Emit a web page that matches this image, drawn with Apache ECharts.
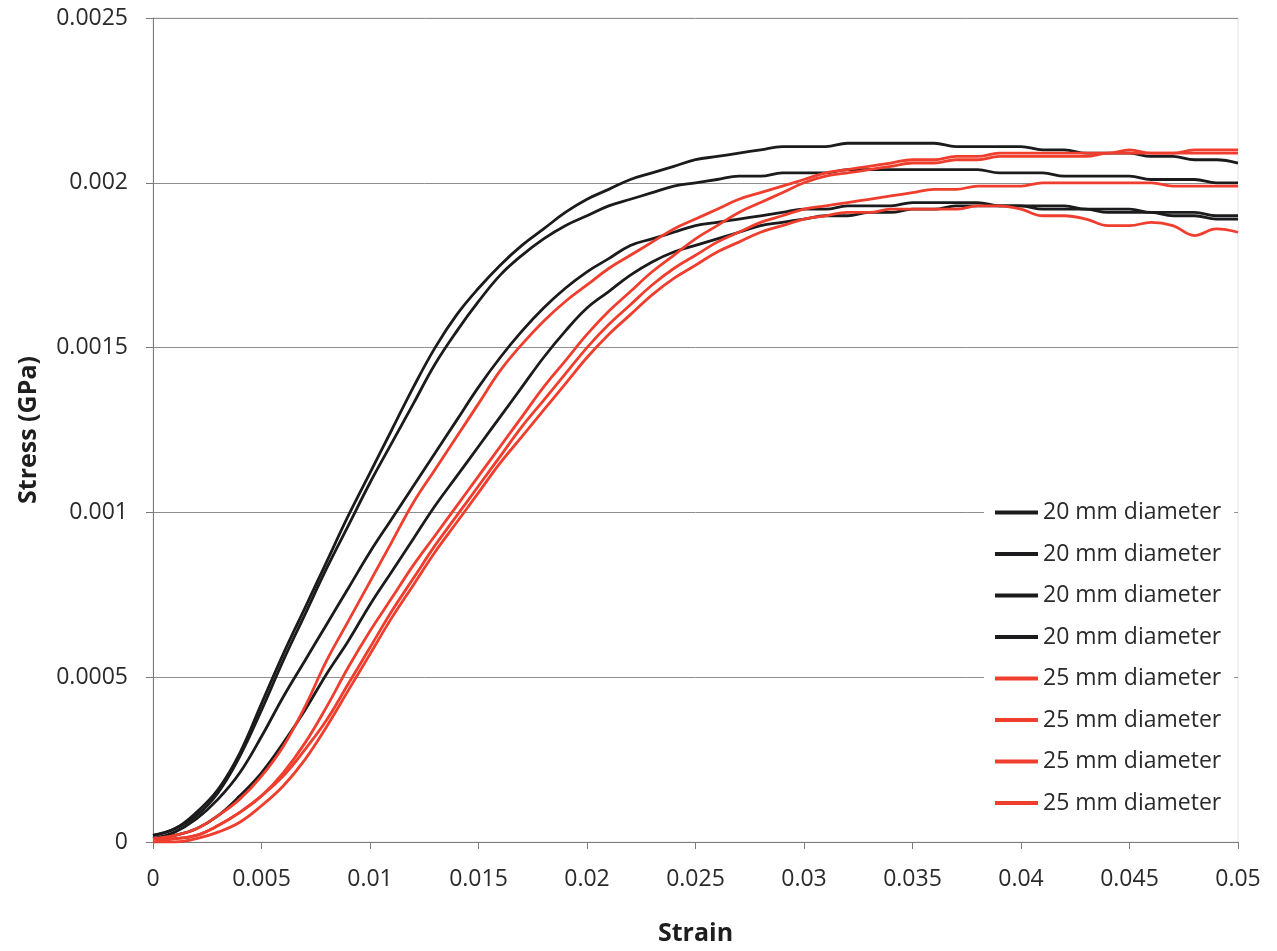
<!DOCTYPE html>
<html>
<head>
<meta charset="utf-8">
<title>Stress vs Strain</title>
<script src="https://cdn.jsdelivr.net/npm/echarts@6/dist/echarts.min.js"></script>
<style>
  html, body { margin: 0; padding: 0; background: #ffffff; }
  #chart { width: 1277px; height: 951px; }
</style>
</head>
<body>
<div id="chart"></div>
<script>
// Strain sample points shared by every test curve
const strain = [
  0, 0.001, 0.002, 0.003, 0.004, 0.005, 0.006, 0.007, 0.008, 0.009,
  0.010, 0.011, 0.012, 0.013, 0.014, 0.015, 0.016, 0.017, 0.018, 0.019,
  0.020, 0.021, 0.022, 0.023, 0.024, 0.025, 0.026, 0.027, 0.028, 0.029,
  0.030, 0.031, 0.032, 0.033, 0.034, 0.035, 0.036, 0.037, 0.038, 0.039,
  0.040, 0.041, 0.042, 0.043, 0.044, 0.045, 0.046, 0.047, 0.048, 0.049,
  0.050
];

// Stress (GPa), 20 mm diameter specimens
const d20a = [
  0.00002, 0.00004, 0.00009, 0.00016, 0.00027, 0.00042, 0.00057, 0.00071, 0.00085, 0.00099,
  0.00112, 0.00125, 0.00138, 0.00150, 0.00160, 0.00168, 0.00175, 0.00181, 0.00186, 0.00191,
  0.00195, 0.00198, 0.00201, 0.00203, 0.00205, 0.00207, 0.00208, 0.00209, 0.00210, 0.00211,
  0.00211, 0.00211, 0.00212, 0.00212, 0.00212, 0.00212, 0.00212, 0.00211, 0.00211, 0.00211,
  0.00211, 0.00210, 0.00210, 0.00209, 0.00209, 0.00209, 0.00208, 0.00208, 0.00207, 0.00207,
  0.00206
];
const d20b = [
  0.00002, 0.00004, 0.00008, 0.00015, 0.00026, 0.00040, 0.00055, 0.00069, 0.00083, 0.00096,
  0.00109, 0.00121, 0.00133, 0.00145, 0.00155, 0.00164, 0.00172, 0.00178, 0.00183, 0.00187,
  0.00190, 0.00193, 0.00195, 0.00197, 0.00199, 0.00200, 0.00201, 0.00202, 0.00202, 0.00203,
  0.00203, 0.00203, 0.00204, 0.00204, 0.00204, 0.00204, 0.00204, 0.00204, 0.00204, 0.00203,
  0.00203, 0.00203, 0.00202, 0.00202, 0.00202, 0.00202, 0.00201, 0.00201, 0.00201, 0.00200,
  0.00200
];
const d20c = [
  0.00001, 0.00003, 0.00007, 0.00013, 0.00021, 0.00032, 0.00044, 0.00055, 0.00066, 0.00077,
  0.00088, 0.00098, 0.00108, 0.00118, 0.00128, 0.00138, 0.00147, 0.00155, 0.00162, 0.00168,
  0.00173, 0.00177, 0.00181, 0.00183, 0.00185, 0.00187, 0.00188, 0.00189, 0.00190, 0.00191,
  0.00192, 0.00192, 0.00193, 0.00193, 0.00193, 0.00194, 0.00194, 0.00194, 0.00194, 0.00193,
  0.00193, 0.00193, 0.00193, 0.00192, 0.00192, 0.00192, 0.00191, 0.00191, 0.00191, 0.00190,
  0.00190
];
const d20d = [
  0.00001, 0.00002, 0.00004, 0.00008, 0.00014, 0.00021, 0.00030, 0.00040, 0.00051, 0.00061,
  0.00072, 0.00082, 0.00092, 0.00102, 0.00111, 0.00120, 0.00129, 0.00138, 0.00147, 0.00155,
  0.00162, 0.00167, 0.00172, 0.00176, 0.00179, 0.00181, 0.00183, 0.00185, 0.00187, 0.00188,
  0.00189, 0.00190, 0.00190, 0.00191, 0.00191, 0.00192, 0.00192, 0.00193, 0.00193, 0.00193,
  0.00193, 0.00192, 0.00192, 0.00192, 0.00191, 0.00191, 0.00191, 0.00190, 0.00190, 0.00189,
  0.00189
];

// Stress (GPa), 25 mm diameter specimens
const d25a = [
  0.00001, 0.00002, 0.00004, 0.00008, 0.00013, 0.00020, 0.00029, 0.00041, 0.00055, 0.00067,
  0.00079, 0.00091, 0.00103, 0.00113, 0.00123, 0.00133, 0.00143, 0.00151, 0.00158, 0.00164,
  0.00169, 0.00174, 0.00178, 0.00182, 0.00186, 0.00189, 0.00192, 0.00195, 0.00197, 0.00199,
  0.00201, 0.00203, 0.00204, 0.00205, 0.00206, 0.00207, 0.00207, 0.00208, 0.00208, 0.00209,
  0.00209, 0.00209, 0.00209, 0.00209, 0.00209, 0.00210, 0.00209, 0.00209, 0.00209, 0.00209,
  0.00209
];
const d25b = [
  0.00001, 0.00001, 0.00002, 0.00005, 0.00009, 0.00014, 0.00021, 0.00030, 0.00041, 0.00053,
  0.00064, 0.00074, 0.00084, 0.00093, 0.00102, 0.00111, 0.00120, 0.00129, 0.00138, 0.00146,
  0.00154, 0.00161, 0.00167, 0.00173, 0.00178, 0.00183, 0.00187, 0.00191, 0.00194, 0.00197,
  0.00200, 0.00202, 0.00203, 0.00204, 0.00205, 0.00206, 0.00206, 0.00207, 0.00207, 0.00208,
  0.00208, 0.00208, 0.00208, 0.00208, 0.00209, 0.00209, 0.00209, 0.00209, 0.00210, 0.00210,
  0.00210
];
const d25c = [
  0.00000, 0.00001, 0.00002, 0.00005, 0.00009, 0.00014, 0.00020, 0.00028, 0.00037, 0.00048,
  0.00059, 0.00070, 0.00080, 0.00090, 0.00099, 0.00108, 0.00117, 0.00126, 0.00134, 0.00142,
  0.00150, 0.00157, 0.00163, 0.00169, 0.00174, 0.00178, 0.00182, 0.00185, 0.00188, 0.00190,
  0.00192, 0.00193, 0.00194, 0.00195, 0.00196, 0.00197, 0.00198, 0.00198, 0.00199, 0.00199,
  0.00199, 0.00200, 0.00200, 0.00200, 0.00200, 0.00200, 0.00200, 0.00199, 0.00199, 0.00199,
  0.00199
];
const d25d = [
  0.00000, 0.00000, 0.00001, 0.00003, 0.00006, 0.00011, 0.00017, 0.00025, 0.00035, 0.00046,
  0.00057, 0.00068, 0.00078, 0.00088, 0.00097, 0.00106, 0.00115, 0.00123, 0.00131, 0.00139,
  0.00147, 0.00154, 0.00160, 0.00166, 0.00171, 0.00175, 0.00179, 0.00182, 0.00185, 0.00187,
  0.00189, 0.00190, 0.00191, 0.00191, 0.00192, 0.00192, 0.00192, 0.00192, 0.00193, 0.00193,
  0.00192, 0.00190, 0.00190, 0.00189, 0.00187, 0.00187, 0.00188, 0.00187, 0.00184, 0.00186,
  0.00185
];

const legendLabels = [
  '20 mm diameter', '20 mm diameter', '20 mm diameter', '20 mm diameter',
  '25 mm diameter', '25 mm diameter', '25 mm diameter', '25 mm diameter'
];
const curves = [d20a, d20b, d20c, d20d, d25a, d25b, d25c, d25d];

const xTickLabels = ['0', '0.005', '0.01', '0.015', '0.02', '0.025', '0.03', '0.035', '0.04', '0.045', '0.05'];
const yTickLabels = ['0', '0.0005', '0.001', '0.0015', '0.002', '0.0025'];

const BLACK = '#1b1b1d';
const RED = '#ef3e2e';
const GRID_GRAY = '#8e8e8e';
const FONT = '"Open Sans", "DejaVu Sans", sans-serif';

// Each series gets a distinct key; the legend shows only the label part
const seriesKey = (i) => legendLabels[i] + ' #' + (i + 1);

const series = curves.map((vals, i) => ({
  name: seriesKey(i),
  type: 'line',
  data: strain.map((s, k) => [s, vals[k]]),
  showSymbol: false,
  symbol: 'none',
  smooth: 0.4,
  lineStyle: { width: 2.8, color: i < 4 ? BLACK : RED },
  itemStyle: { color: i < 4 ? BLACK : RED },
  z: 2 + i,
  silent: true
}));

const chart = echarts.init(document.getElementById('chart'), null, { renderer: 'canvas' });
chart.setOption({
  animation: false,
  backgroundColor: '#ffffff',
  grid: {
    left: 153, right: 39, top: 18, bottom: 109,
    show: true, borderColor: '#e2e2e2', borderWidth: 1, backgroundColor: 'transparent'
  },
  xAxis: {
    type: 'value',
    min: 0, max: 0.05, interval: 0.005,
    name: 'Strain',
    nameLocation: 'middle',
    nameGap: 79,
    nameTextStyle: { fontFamily: FONT, fontSize: 25, fontWeight: 'bold', color: '#1e1e1e' },
    axisLine: { show: true, onZero: false, lineStyle: { color: '#7a7a7a', width: 1 } },
    axisTick: { show: true, inside: false, length: 7, lineStyle: { color: '#7a7a7a' } },
    axisLabel: {
      margin: 26,
      fontFamily: FONT, fontSize: 23, color: '#2a2a2a',
      formatter: (v) => xTickLabels[Math.round(v / 0.005)]
    },
    splitLine: { show: false }
  },
  yAxis: {
    type: 'value',
    min: 0, max: 0.0025, interval: 0.0005,
    name: 'Stress (GPa)',
    nameLocation: 'middle',
    nameGap: 112,
    nameTextStyle: { fontFamily: FONT, fontSize: 25, fontWeight: 'bold', color: '#1e1e1e' },
    axisLine: { show: true, lineStyle: { color: '#7a7a7a', width: 1 } },
    axisTick: { show: true, inside: false, length: 7, lineStyle: { color: '#7a7a7a' } },
    axisLabel: {
      margin: 25,
      fontFamily: FONT, fontSize: 23, color: '#2a2a2a',
      formatter: (v) => yTickLabels[Math.round(v / 0.0005)]
    },
    splitLine: { show: true, lineStyle: { color: GRID_GRAY, width: 1 } }
  },
  legend: {
    orient: 'vertical',
    left: 984,
    top: 495,
    selectedMode: false,
    backgroundColor: '#ffffff',
    padding: [6, 13, 6, 11],
    icon: 'rect',
    itemWidth: 43,
    itemHeight: 4,
    itemGap: 18.5,
    data: curves.map((_, i) => seriesKey(i)),
    formatter: (name) => name.replace(/ #\d+$/, ''),
    textStyle: { fontFamily: FONT, fontSize: 23, color: '#2a2a2a' }
  },
  series: series
});
</script>
</body>
</html>
